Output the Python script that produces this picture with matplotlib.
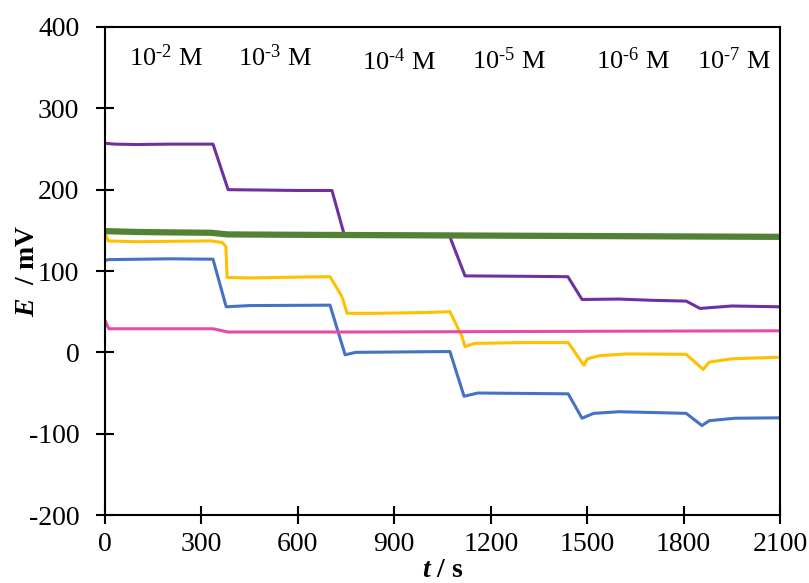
import numpy as np
import matplotlib
matplotlib.use("Agg")
import matplotlib.pyplot as plt

plt.rcParams['font.family'] = 'Liberation Serif'
plt.rcParams['mathtext.fontset'] = 'custom'
plt.rcParams['mathtext.rm'] = 'Liberation Serif'
plt.rcParams['mathtext.it'] = 'Liberation Serif:italic'
plt.rcParams['mathtext.bf'] = 'Liberation Serif:bold'
plt.rcParams['mathtext.bfit'] = 'Liberation Serif:bold:italic'
plt.rcParams['axes.unicode_minus'] = False

# potential traces (t in s, E in mV)
t_purple = [0, 30, 100, 200, 336, 383, 500, 600, 706, 744, 900, 1070, 1120, 1300, 1440,
            1484, 1600, 1700, 1808, 1851, 1950, 2100]
e_purple = [257, 256, 255.5, 256, 256, 200, 199.5, 199, 199, 145, 145, 145, 94, 93.5, 93,
            65, 65.5, 64, 63, 54, 57, 56]

t_green = [0, 100, 200, 330, 380, 600, 900, 1200, 1500, 1800, 2100]
e_green = [149, 148, 147.5, 147, 145, 144.5, 144, 143.5, 143, 142.5, 142]

t_yellow = [0, 10, 100, 200, 330, 365, 376, 380, 450, 600, 700, 735, 741, 753, 850, 1000,
            1073, 1110, 1120, 1150, 1300, 1441, 1490, 1500, 1540, 1620, 1808, 1861, 1880,
            1950, 2016, 2100]
e_yellow = [146, 137, 136, 136.5, 137, 135, 130, 92, 91.5, 92.5, 93, 70, 64, 48, 48, 49,
            50, 20, 7, 11, 12, 12, -16, -8, -4, -2, -2.4, -21, -12, -8, -7, -6]

t_blue = [0, 10, 200, 336, 377, 450, 700, 747, 780, 1073, 1117, 1160, 1441, 1484, 1520,
          1600, 1808, 1857, 1880, 1960, 2100]
e_blue = [113, 114, 115, 114.5, 56, 57.5, 58, -3, 0, 1, -54, -50, -51, -81, -75,
          -73, -75, -90, -84, -81, -80.5]

t_pink = [0, 12, 200, 336, 383, 800, 1200, 1600, 2100]
e_pink = [39, 29, 29, 29, 25, 25, 25.5, 26, 26.5]

conc_labels = ['-2', '-3', '-4', '-5', '-6', '-7']
conc_x = [190, 529, 915, 1257, 1643, 1957]
conc_y = [362, 362, 357, 359, 359, 359]


def main():
    fig = plt.figure(figsize=(8.09, 5.83), dpi=100)
    ax = fig.add_axes([0.1298, 0.1166, 0.8344, 0.8371])

    ax.plot(t_purple, e_purple, color='#7030A0', lw=2.2)
    ax.plot(t_blue, e_blue, color='#4472C4', lw=2.2)
    ax.plot(t_yellow, e_yellow, color='#FFC000', lw=2.2)
    ax.plot(t_pink, e_pink, color='#E84BA6', lw=2.2)
    ax.plot(t_green, e_green, color='#548235', lw=4.5)

    for lab, x, y in zip(conc_labels, conc_x, conc_y):
        ax.text(x, y, '10$^{\\text{' + lab + '}}$ M', fontsize=19,
                ha='center', va='center')

    ax.set_xlim(0, 2100)
    ax.set_ylim(-200, 400)
    ax.set_xticks(np.arange(0, 2101, 300))
    ax.set_yticks(np.arange(-200, 401, 100))
    ax.tick_params(direction='inout', length=13, width=1.5, labelsize=20,
                   top=False, right=False)
    ax.tick_params(axis='y', pad=12)
    ax.tick_params(axis='x', pad=6)
    for s in ax.spines.values():
        s.set_linewidth(1.5)

    ax.set_xlabel(r'$\mathbfit{t}$ / s', fontsize=20, fontweight='bold')
    ax.set_ylabel(r'$\mathbfit{E}$  / mV', fontsize=20, fontweight='bold')
    ax.xaxis.set_label_coords(0.5, -0.088)
    ax.yaxis.set_label_coords(-0.097, 0.5)

    fig.savefig('out.png', dpi=100)


if __name__ == "__main__":
    main()
